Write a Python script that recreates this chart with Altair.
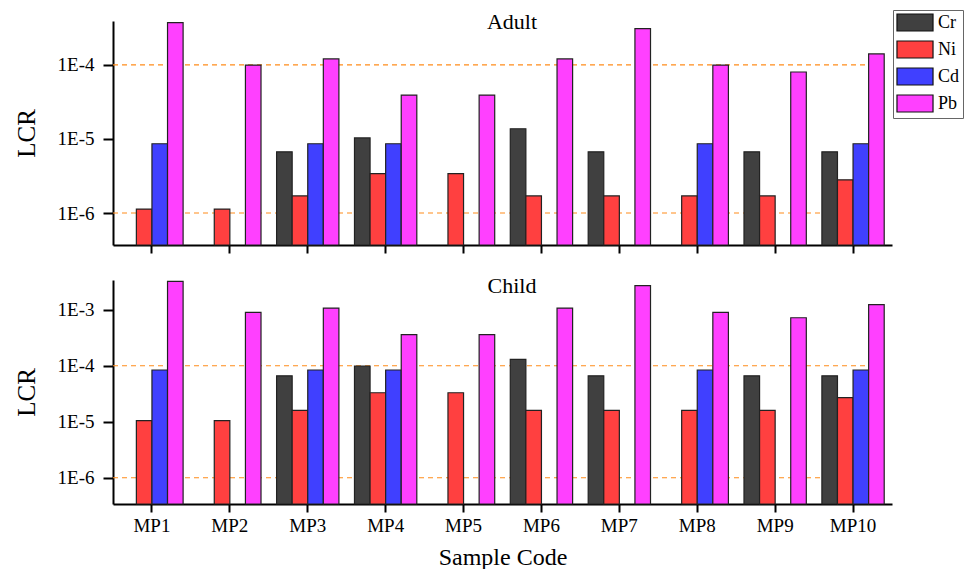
import altair as alt
import pandas as pd

samples = ["MP1", "MP2", "MP3", "MP4", "MP5", "MP6", "MP7", "MP8", "MP9", "MP10"]
metals = ["Cr", "Ni", "Cd", "Pb"]
colors = ["#404040", "#FF4040", "#4040FF", "#FF40FF"]

adult_cr = [None, None, 6.7e-6, 1.03e-5, None, 1.37e-5, 6.7e-6, None, 6.7e-6, 6.7e-6]
adult_ni = [1.13e-6, 1.13e-6, 1.7e-6, 3.4e-6, 3.4e-6, 1.7e-6, 1.7e-6, 1.7e-6, 1.7e-6, 2.8e-6]
adult_cd = [8.6e-6, None, 8.6e-6, 8.6e-6, None, None, None, 8.6e-6, None, 8.6e-6]
adult_pb = [3.7e-4, 9.9e-5, 1.2e-4, 3.9e-5, 3.9e-5, 1.2e-4, 3.07e-4, 9.9e-5, 8.0e-5, 1.4e-4]

child_cr = [None, None, 6.6e-5, 9.9e-5, None, 1.3e-4, 6.6e-5, None, 6.6e-5, 6.6e-5]
child_ni = [1.05e-5, 1.05e-5, 1.6e-5, 3.3e-5, 3.3e-5, 1.6e-5, 1.6e-5, 1.6e-5, 1.6e-5, 2.7e-5]
child_cd = [8.4e-5, None, 8.4e-5, 8.4e-5, None, None, None, 8.4e-5, None, 8.4e-5]
child_pb = [3.2e-3, 9.0e-4, 1.07e-3, 3.6e-4, 3.6e-4, 1.07e-3, 2.7e-3, 9.0e-4, 7.2e-4, 1.24e-3]

thresholds = [1e-4, 1e-6]
adult_ticks = [1e-6, 1e-5, 1e-4]
child_ticks = [1e-6, 1e-5, 1e-4, 1e-3]
adult_domain = [3.7e-7, 3.9e-4]
child_domain = [3.4e-7, 3.4e-3]

FONT = "Liberation Serif"
W = 779
H = 224


def to_df(series):
    rows = []
    for metal, vals in zip(metals, series):
        for s, v in zip(samples, vals):
            if v is not None:
                rows.append({"sample": s, "metal": metal, "LCR": v})
    return pd.DataFrame(rows)


label_expr = "'1E' + round(log(datum.value)/LN10)"


def panel(df, title, title_y, ticks, domain, show_x_labels, show_legend):
    xaxis = alt.Axis(
        title="Sample Code" if show_x_labels else None,
        labels=show_x_labels,
        labelAngle=0,
        tickSize=8,
        labelPadding=4,
        titlePadding=10,
        labelFontSize=19,
        titleFontSize=24,
    )
    yscale = alt.Scale(type="log", domain=domain, clamp=True)
    color = alt.Color(
        "metal:N",
        scale=alt.Scale(domain=metals, range=colors),
        legend=alt.Legend(
            orient="none",
            legendX=780,
            legendY=-11,
            title=None,
            symbolType="M-2.12,-1H2.12V1H-2.12Z",
            symbolSize=289,
            symbolOffset=9.5,
            symbolStrokeColor="#111111",
            symbolStrokeWidth=1.2,
            symbolOpacity=1,
            labelFont=FONT,
            labelFontSize=18,
            labelOffset=13.5,
            rowPadding=4,
            padding=3,
            strokeColor="#666666",
            fillColor="white",
        ) if show_legend else None,
    )
    bars = alt.Chart(df).mark_bar(stroke="#222222", strokeWidth=1.2).encode(
        x=alt.X("sample:N", sort=samples, axis=xaxis,
                scale=alt.Scale(paddingInner=0.2, paddingOuter=0.1)),
        xOffset=alt.XOffset("metal:N", sort=metals,
                            scale=alt.Scale(domain=metals, paddingInner=0, paddingOuter=0)),
        y=alt.Y("LCR:Q", scale=yscale,
                axis=alt.Axis(title="LCR", values=ticks, labelExpr=label_expr,
                              tickSize=10, labelPadding=9, titlePadding=18,
                              labelFontSize=19, titleFontSize=25, grid=False)),
        y2=alt.value(H),
        color=color,
    )
    rules = alt.Chart(pd.DataFrame({"t": thresholds})).mark_rule(
        color="#FF8C1A", strokeDash=[5, 4], strokeWidth=1.2
    ).encode(
        y=alt.Y("t:Q", scale=yscale),
        x=alt.value(0),
        x2=alt.value(770),
    )
    text = alt.Chart(pd.DataFrame({"t": [title]})).mark_text(
        font=FONT, fontSize=22, baseline="middle", align="center"
    ).encode(text="t:N", x=alt.value(399), y=alt.value(title_y))
    return alt.layer(rules, bars, text).properties(width=W, height=H)


top = panel(to_df([adult_cr, adult_ni, adult_cd, adult_pb]), "Adult", 1,
            adult_ticks, adult_domain, False, True)
bottom = panel(to_df([child_cr, child_ni, child_cd, child_pb]), "Child", 6,
               child_ticks, child_domain, True, False)

chart = alt.vconcat(top, bottom, spacing=21).resolve_scale(
    y="independent"
).properties(
    padding={"left": 6, "top": 1, "right": 0, "bottom": 0}
).configure_view(stroke=None).configure_axis(
    labelFont=FONT, titleFont=FONT, labelColor="black", titleColor="black",
    titleFontWeight="normal", domainColor="black", domainWidth=2,
    tickColor="black", tickWidth=2,
)

chart.save("out.html", embed_options={"renderer": "svg", "actions": False})
